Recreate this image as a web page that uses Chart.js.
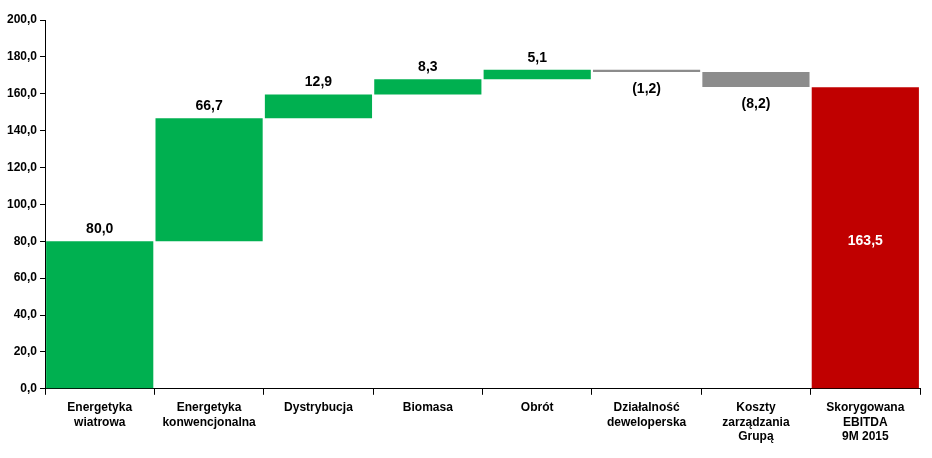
<!DOCTYPE html>
<html>
<head>
<meta charset="utf-8">
<script src="https://cdn.jsdelivr.net/npm/chart.js@4/dist/chart.umd.min.js"></script>
<style>
  html, body { margin: 0; padding: 0; background: #fff; }
  #wrap { width: 932px; height: 458px; }
</style>
</head>
<body>
<div id="wrap"><canvas id="chart"></canvas></div>
<script>
const categories = [
    ['Energetyka', 'wiatrowa'],
    ['Energetyka', 'konwencjonalna'],
    ['Dystrybucja'],
    ['Biomasa'],
    ['Obrót'],
    ['Działalność', 'deweloperska'],
    ['Koszty', 'zarządzania', 'Grupą'],
    ['Skorygowana', 'EBITDA', '9M 2015']
];
const changes = [80.0, 66.7, 12.9, 8.3, 5.1, -1.2, -8.2];
const total = 163.5;
const labels = ['80,0', '66,7', '12,9', '8,3', '5,1', '(1,2)', '(8,2)', '163,5'];

// build floating ranges from the changes
const ranges = [];
let run = 0;
changes.forEach(v => { ranges.push([run, run + v]); run += v; });
ranges.push([0, total]);

const colors = changes.map(v => v >= 0 ? '#00b050' : '#8c8c8c');
colors.push('#c00000');

const fmt = v => v.toFixed(1).replace('.', ',');

const labelPlugin = {
    id: 'wfLabels',
    afterDatasetsDraw(chart) {
        const ctx = chart.ctx;
        const meta = chart.getDatasetMeta(0);
        ctx.save();
        ctx.font = 'bold 14px "Liberation Sans", Arial, sans-serif';
        ctx.textAlign = 'center';
        meta.data.forEach((bar, i) => {
            const r = ranges[i];
            const top = Math.min(bar.y, bar.base);
            const bottom = Math.max(bar.y, bar.base);
            if (i === ranges.length - 1) {
                ctx.fillStyle = '#fff';
                ctx.textBaseline = 'middle';
                ctx.fillText(labels[i], bar.x, chart.scales.y.getPixelForValue(80));
            } else if (r[1] >= r[0]) {
                ctx.fillStyle = '#000';
                ctx.textBaseline = 'bottom';
                ctx.fillText(labels[i], bar.x, top - 5);
            } else {
                ctx.fillStyle = '#000';
                ctx.textBaseline = 'top';
                ctx.fillText(labels[i], bar.x, bottom + 10);
            }
        });
        ctx.restore();
    }
};

const tickFont = { size: 12, weight: 'bold', family: '"Liberation Sans", Arial, sans-serif' };

new Chart(document.getElementById('chart').getContext('2d'), {
    type: 'bar',
    data: {
        labels: categories,
        datasets: [{
            data: ranges,
            backgroundColor: colors,
            barPercentage: 1.0,
            categoryPercentage: 0.98
        }]
    },
    options: {
        responsive: true,
        maintainAspectRatio: false,
        animation: false,
        layout: { padding: { top: 20, right: 12, left: 4, bottom: 8 } },
        plugins: { legend: { display: false }, tooltip: { enabled: false } },
        scales: {
            x: {
                grid: { display: true, drawOnChartArea: false, offset: true, color: '#000', tickLength: 6 },
                border: { color: '#000' },
                ticks: { color: '#000', maxRotation: 0, autoSkip: false, padding: 6, font: tickFont }
            },
            y: {
                min: 0, max: 200,
                grid: { display: true, drawOnChartArea: false, color: '#000', tickLength: 5 },
                border: { color: '#000' },
                ticks: { stepSize: 20, color: '#000', callback: v => fmt(v), font: tickFont }
            }
        }
    },
    plugins: [labelPlugin]
});
</script>
</body>
</html>
